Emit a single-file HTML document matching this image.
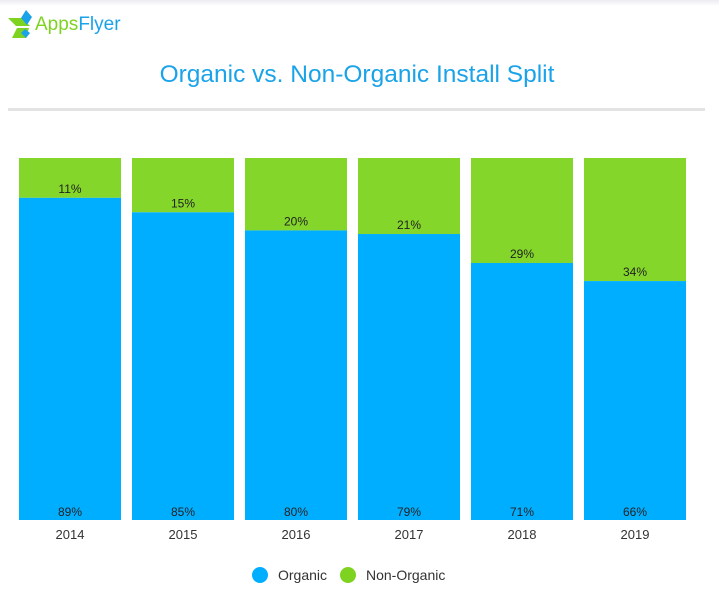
<!DOCTYPE html>
<html><head><meta charset="utf-8"><style>
body{margin:0;width:719px;height:593px;overflow:hidden;background:#fff;font-family:"Liberation Sans",sans-serif}
</style></head><body>
<div style="position:absolute;left:0;top:0;width:719px;height:6px;background:linear-gradient(#ececf2,#fff)"></div>
<svg width="719" height="593" style="position:absolute;left:0;top:0">
<g>
<polygon points="8,18 22,18 30,26 16,26" fill="#7ed321"/>
<polygon points="17,28 29,28 26,38 12,38" fill="#7ed321"/>
<polygon points="26,10 32,17 27,25 21,18" fill="#1aa3e8"/>
<polygon points="25,29 30,33 26,38 21,33" fill="#1aa3e8"/>
<text x="35" y="30" font-size="19" fill="#7ed321">Apps<tspan fill="#1aa3e8">Flyer</tspan></text>
</g>
<text x="357" y="82" text-anchor="middle" font-size="24.5" fill="#1aa3e8">Organic vs. Non-Organic Install Split</text>
<rect x="8" y="108" width="697" height="3" fill="#e3e3e3"/>
<g id="bars"></g>
<g>
<circle cx="260" cy="575" r="8" fill="#00aeff"/>
<text x="278" y="580" font-size="14" fill="#333">Organic</text>
<circle cx="348" cy="575" r="8" fill="#7ed321"/>
<text x="366" y="580" font-size="14" fill="#333">Non-Organic</text>
</g>
</svg>
<script>
const years=["2014","2015","2016","2017","2018","2019"];
const organic=[89,85,80,79,71,66];
const nonOrganic=[11,15,20,21,29,34];
const ns="http://www.w3.org/2000/svg";
const g=document.getElementById("bars");
const top0=158,bot=520,H=bot-top0,x0=19,step=113,bw=102;
const y=v=>bot-v/100*H;
function mk(t,a){const e=document.createElementNS(ns,t);for(const k in a)e.setAttribute(k,a[k]);g.appendChild(e);return e;}
years.forEach((yr,i)=>{
 const x=x0+i*step;
 const tot=organic[i]+nonOrganic[i];
 const b=mk("rect",{x:x,y:y(tot),width:bw,height:y(organic[i])-y(tot),fill:"#84d72a"});
 
 
 const o=mk("rect",{x:x,y:y(organic[i]),width:bw,height:bot-y(organic[i]),fill:"#00aeff"});
 
 
 const t1=mk("text",{x:x+bw/2,y:y(organic[i])-5,"text-anchor":"middle","font-size":"12",fill:"#222"});
 t1.textContent=nonOrganic[i]+"%";
 
 
 const t2=mk("text",{x:x+bw/2,y:bot-4,"text-anchor":"middle","font-size":"12",fill:"#222"});
 t2.textContent=organic[i]+"%";
 
 
 const t3=mk("text",{x:x+bw/2,y:539,"text-anchor":"middle","font-size":"13",fill:"#333"});
 t3.textContent=yr;
 
 
});
</script>
</body></html>
